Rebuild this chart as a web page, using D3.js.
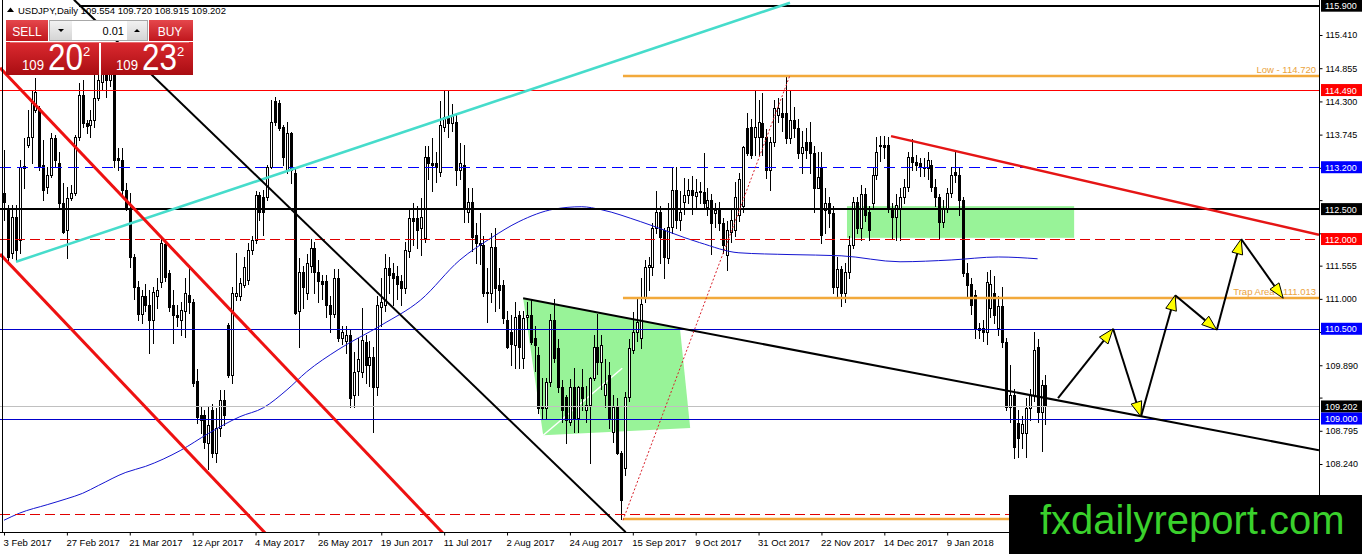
<!DOCTYPE html>
<html>
<head>
<meta charset="utf-8">
<script src="https://cdn.jsdelivr.net/npm/d3@7"></script>
<style>
  html, body { margin: 0; padding: 0; background: #fff; }
  svg { display: block; font-family: "Liberation Sans", Arial, sans-serif; }
</style>
</head>
<body>
<svg id="chart" width="1362" height="554"></svg>
<script>
// --- data ---

const symbolName = "USDJPY,Daily";

// daily candles [open, high, low, close], first bar = 3 Feb 2017
const candles = [
  [112.77,113.49,112.32,112.62],[112.49,112.57,111.62,111.70],[111.77,112.57,111.68,112.37],[112.37,112.57,111.65,111.82],
  [111.98,113.32,111.77,113.20],[113.22,113.69,112.85,113.19],[113.57,114.16,113.54,113.71],[113.71,114.49,113.27,114.27],
  [114.16,114.69,114.12,114.46],[114.19,114.22,113.15,113.20],[113.24,113.66,112.65,112.82],[112.87,113.20,112.77,113.07],
  [113.07,113.78,113.04,113.69],[113.69,113.74,113.20,113.32],[113.27,113.45,112.54,112.60],[112.60,112.94,112.10,112.12],
  [112.15,112.87,111.68,112.69],[112.69,112.91,112.65,112.77],[112.77,113.74,112.74,113.71],[113.71,114.61,113.66,114.41],
  [114.41,114.66,113.87,113.94],[113.94,113.99,113.78,113.89],[113.91,114.16,113.71,113.99],[113.99,114.74,113.87,114.36],
  [114.36,114.91,114.32,114.66],[114.63,115.16,114.49,114.96],[114.96,115.08,114.38,114.66],[114.66,115.25,114.55,115.05],
  [114.96,115.08,113.20,113.32],[113.35,113.52,113.15,113.32],[113.32,113.52,112.74,112.82],[112.82,112.94,112.49,112.52],
  [112.52,112.77,111.54,111.70],[111.70,111.75,111.00,111.20],[111.20,111.30,110.65,110.75],[110.75,111.15,110.60,111.05],
  [111.05,111.25,110.80,110.90],[110.90,111.15,110.10,110.65],[110.65,111.19,110.27,111.12],[111.04,111.35,110.85,111.15],
  [111.29,112.00,111.20,111.94],[111.91,111.99,111.30,111.37],[111.43,111.48,110.80,110.87],[110.90,111.15,110.27,110.73],
  [110.73,110.90,110.55,110.70],[110.65,110.95,110.40,110.81],[110.79,111.35,110.37,111.10],[111.07,111.57,110.77,110.94],
  [110.94,111.00,109.55,109.60],[109.62,109.82,108.93,109.02],[109.06,109.20,108.76,108.98],[109.06,109.15,108.51,108.61],
  [108.59,109.20,108.15,108.90],[109.15,109.25,108.35,108.43],[108.43,109.18,108.27,108.85],[108.85,109.48,108.70,109.31],
  [109.31,109.48,108.90,109.06],[110.56,110.60,109.70,109.73],[109.73,111.20,109.60,111.09],[111.04,111.77,110.98,111.10],
  [111.04,111.35,110.98,111.27],[111.23,111.70,111.20,111.53],[111.32,111.94,111.25,111.82],[111.82,112.05,111.75,111.98],
  [111.98,112.80,111.94,112.74],[112.74,112.79,112.32,112.46],[112.71,112.82,112.07,112.46],[112.71,113.24,112.66,113.20],
  [113.20,114.33,113.19,113.96],[114.30,114.37,113.91,113.96],[114.27,114.33,113.83,113.86],[113.87,113.91,113.24,113.37],
  [113.15,113.96,113.11,113.77],[113.77,113.79,112.94,113.15],[113.10,113.18,110.74,110.77],[110.79,111.68,110.20,111.45],
  [111.45,111.55,110.85,111.20],[111.10,111.75,111.00,111.60],[111.55,112.00,111.45,111.85],[111.85,111.95,111.10,111.45],
  [111.45,111.65,110.95,111.30],[111.30,111.40,111.00,111.25],[111.30,111.40,110.70,110.90],[110.90,111.05,110.45,110.75],
  [110.75,111.50,110.70,111.35],[111.35,111.50,110.30,110.35],[110.35,110.55,110.25,110.45],[110.30,110.55,110.10,110.40],
  [110.40,110.50,109.20,109.35],[109.40,110.12,109.20,109.78],[109.80,110.35,109.40,110.00],[109.78,110.85,109.70,110.31],
  [110.28,110.40,109.60,109.90],[109.90,110.30,109.55,110.03],[110.03,110.20,108.77,109.52],[109.52,111.05,109.40,110.90],
  [110.87,111.35,110.55,110.95],[110.90,111.75,110.80,111.52],[111.52,111.70,111.10,111.40],[111.44,111.60,110.90,111.35],
  [111.38,111.55,111.00,111.25],[111.30,111.40,110.90,111.18],[111.18,111.95,111.10,111.82],[111.80,112.50,111.70,112.35],
  [112.35,112.60,111.90,112.30],[112.35,112.55,111.85,112.15],[112.18,112.68,111.73,112.37],[112.02,113.55,111.95,113.37],
  [113.37,113.55,113.00,113.27],[113.27,113.69,112.80,113.24],[113.27,113.45,112.95,113.20],[113.12,114.30,113.05,113.91],
  [113.87,114.49,113.80,114.04],[114.02,114.49,113.70,113.94],[113.94,114.25,113.80,114.05],[113.96,114.10,112.90,113.15],
  [113.15,113.60,113.00,113.27],[113.24,113.57,112.28,112.52],[112.46,112.85,112.28,112.62],[112.62,112.85,111.80,112.04],
  [112.07,112.27,111.60,111.94],[111.94,112.43,111.59,111.90],[111.90,112.05,111.05,111.10],[111.12,111.52,110.61,111.10],
  [111.10,112.10,110.95,111.87],[111.87,112.18,110.80,111.18],[111.23,111.52,110.85,111.15],[111.23,111.32,110.59,110.68],
  [110.65,110.80,110.18,110.20],[110.45,110.73,109.90,110.25],[110.23,110.95,109.85,110.70],[110.73,110.80,109.85,110.20],
  [110.01,110.80,109.85,110.68],[110.70,110.95,110.50,110.73],[110.73,111.00,110.25,110.28],[110.35,110.55,109.80,110.23],
  [110.06,110.20,109.10,109.18],[109.20,109.68,109.01,109.18],[109.18,109.68,109.01,109.61],[109.61,110.75,109.55,110.65],
  [110.65,111.00,109.95,110.01],[110.18,110.33,109.45,109.53],[109.53,109.65,108.95,109.15],[109.36,109.40,108.59,108.98],
  [108.95,109.66,108.90,109.53],[109.53,109.85,108.78,109.01],[109.01,109.55,108.78,109.53],[109.53,109.83,109.15,109.35],
  [109.15,109.55,108.95,109.23],[109.23,109.70,108.26,109.68],[109.68,110.40,109.65,110.20],[110.20,110.75,109.75,109.95],
  [109.95,110.40,109.50,110.23],[109.40,110.00,109.20,109.58],[109.73,109.95,108.85,109.01],[108.78,109.40,108.60,109.20],
  [109.20,109.35,108.40,108.43],[108.43,108.45,107.32,107.64],[108.17,109.45,108.05,109.36],[109.36,110.33,109.30,110.18],
  [110.15,110.78,110.10,110.45],[110.45,111.00,110.30,110.62],[110.35,111.35,110.18,110.92],[111.03,111.65,110.95,111.53],
  [111.53,111.70,111.15,111.57],[111.53,112.27,111.40,112.18],[112.18,112.80,112.10,112.45],[112.45,112.55,111.60,112.03],
  [112.15,112.18,111.35,111.70],[111.68,112.60,111.60,112.20],[112.20,113.20,112.10,112.82],[112.82,113.20,112.18,112.32],
  [112.32,112.80,112.15,112.45],[112.62,113.02,112.42,112.74],[112.74,113.00,112.60,112.82],[112.82,113.05,112.42,112.74],
  [112.72,113.00,112.50,112.79],[112.79,112.95,112.60,112.80],[112.79,113.44,112.52,112.60],[112.54,112.85,112.40,112.65],
  [112.65,112.75,111.75,112.27],[112.44,112.60,112.20,112.49],[112.49,112.62,112.15,112.27],[112.27,112.35,111.77,111.90],
  [111.74,112.30,111.48,112.15],[112.12,112.50,111.95,112.32],[112.15,112.95,112.05,112.70],[112.40,113.10,112.30,113.00],
  [112.55,113.55,112.45,113.53],[113.86,114.10,113.40,113.44],[113.87,114.00,113.35,113.40],[113.71,114.49,113.40,113.87],
  [113.71,114.32,113.40,113.96],[113.94,114.44,113.40,113.71],[113.71,113.84,113.02,113.15],[113.15,113.70,112.82,113.62],
  [113.62,114.32,113.55,114.19],[114.08,114.35,113.95,114.19],[114.10,114.35,113.80,114.04],[114.10,114.73,113.60,113.69],
  [113.69,114.49,113.60,113.99],[113.99,114.20,113.70,113.86],[113.86,114.00,113.35,113.44],[113.44,113.80,113.10,113.54],
  [113.62,113.85,113.35,113.49],[113.62,113.96,113.10,113.44],[113.44,113.55,112.45,112.86],[112.86,113.45,112.85,113.04],
  [113.19,113.45,111.94,112.07],[112.49,112.85,112.10,112.60],[112.60,112.70,112.20,112.44],[112.44,112.55,111.10,111.20],
  [111.20,111.70,111.05,111.50],[111.50,111.55,110.88,111.10],[111.10,111.60,110.95,111.45],[111.45,112.05,111.35,111.90],
  [111.90,112.70,111.85,112.62],[112.62,112.70,112.10,112.18],[112.18,112.90,111.98,112.75],[112.75,112.85,112.30,112.40],
  [112.45,112.55,111.98,112.15],[112.60,113.20,112.50,113.07],[113.07,113.70,113.00,113.45],[113.57,113.72,113.30,113.55],
  [113.57,113.73,113.35,113.54],[113.57,113.70,112.45,112.52],[112.52,112.60,112.02,112.37],[112.37,112.75,111.98,112.57],
  [112.52,112.85,111.98,112.70],[112.70,113.00,112.60,112.87],[112.87,113.45,112.80,113.37],[113.37,113.67,113.15,113.29],
  [113.29,113.40,113.15,113.24],[113.27,113.35,113.05,113.20],[113.20,113.35,113.05,113.19],[113.19,113.45,113.00,113.32],
  [113.24,113.32,112.80,112.87],[112.87,113.00,112.55,112.70],[112.70,112.75,112.02,112.29],[112.29,112.65,112.20,112.52],
  [112.52,112.85,112.45,112.77],[112.77,113.20,112.70,113.07],[113.12,113.49,112.95,113.07],[113.07,113.20,112.40,112.65],
  [112.65,112.70,111.38,111.43],[111.43,111.60,111.05,111.23],[111.25,111.35,110.75,110.90],[111.07,111.15,110.35,110.52],
  [110.52,110.60,110.35,110.48],[110.52,110.65,110.30,110.45],[110.45,111.45,110.25,111.28],[110.85,111.48,110.70,111.25],
  [111.10,111.38,110.60,110.73],[110.52,111.05,110.40,110.88],[110.88,111.20,110.20,110.28],[110.28,110.35,109.15,109.20],
  [109.20,109.90,108.95,109.40],[109.40,109.50,108.34,108.52],[108.93,109.15,108.35,108.68],[108.75,109.05,108.50,108.91],
  [108.76,109.35,108.35,109.18],[109.18,109.50,108.98,109.40],[109.40,110.45,109.30,110.15],[110.20,110.33,108.95,109.11],
  [109.11,109.65,108.45,109.56],[109.554,109.720,108.915,109.202]
];

// moving average, sampled [bar, price]
const maPoints = [
  [0,107.30],[4,107.42],[11,107.56],[16,107.66],[20,107.75],[24,107.88],[31,108.10],[36,108.20],
  [45,108.47],[52,108.75],[60,109.03],[66,109.18],[72,109.48],[77,109.78],[85,110.15],[96,110.56],
  [106,110.98],[116,111.65],[124,112.02],[131,112.29],[140,112.50],[147,112.54],[152,112.49],
  [162,112.29],[177,111.94],[187,111.77],[200,111.74],[213,111.72],[228,111.62],[241,111.65],
  [253,111.70],[263,111.67]
];

// x axis: one label every 16 bars
const dateLabels = ["3 Feb 2017","27 Feb 2017","21 Mar 2017","12 Apr 2017","4 May 2017","26 May 2017",
  "19 Jun 2017","11 Jul 2017","2 Aug 2017","24 Aug 2017","15 Sep 2017","9 Oct 2017","31 Oct 2017",
  "22 Nov 2017","14 Dec 2017","9 Jan 2018"];
const dateStep = 16;

// y axis ticks
const priceTicks = [115.410,114.855,114.300,113.745,113.190,112.650,112.095,111.555,111.000,
  110.445,109.890,109.350,108.795,108.240,107.685];

// horizontal levels (price tags on the axis)
const levelPrices = [115.900, 114.490, 113.200, 112.500, 112.000, 110.500, 109.202, 109.000, 107.400];

// orange levels starting at the September low
const orangePrices = [114.720, 111.013, 107.320];
const orangeNames = ["Low", "Trap Area", ""];
const orangeFrom = 157.5;

// trend lines [[bar, price],[bar, price]]
const trendLines = [
  [[3.05,111.62],[200,115.95]],
  [[17.8,116.00],[158.2,107.10]],
  [[-1.02,114.86],[113.5,106.96]],
  [[-1.02,111.75],[67.7,107.00]],
  [[132.1,111.01],[334.6,108.47]],
  [[225.7,113.72],[334.6,112.07]]
];
const fiboLine = [[157.5,107.30],[200,114.74]];

// green zones
const zoneRect = [[214.5,112.55],[272.3,112.02]];
const flagPolygon = [[132.1,111.01],[172.0,110.51],[174.6,108.84],[137.2,108.72]];
const flagStroke = [[137.2,108.72],[157.3,109.84]];

// projected path with arrows
const arrowPath = [[268.2,109.34],[282.2,110.50],[289.3,109.03],[298.0,111.06],[308.6,110.48],[314.8,112.00],[325.5,111.01]];

// one-click trading panel
const bidPrice = 109.202, askPrice = 109.232, lotSize = "0.01";

// --- drawing ---

const svg = d3.select("#chart");
const plotRight = 1319, plotBottom = 532;
const logoTop = 495;

const x = d3.scaleLinear().domain([0, 265]).range([4, 4 + 3.93 * 265]);
const y = d3.scaleLinear().domain([108.24, 115.41]).range([464, 35]);
const px = d => [x(d[0]), y(d[1])];

const defs = svg.append("defs");
defs.append("clipPath").attr("id", "plotClip")
  .append("rect").attr("x", 0).attr("y", 0).attr("width", plotRight).attr("height", plotBottom);

function grad(id, top, bottom) {
  const g = defs.append("linearGradient").attr("id", id).attr("x1", 0).attr("y1", 0).attr("x2", 0).attr("y2", 1);
  g.append("stop").attr("offset", "0%").attr("stop-color", top);
  g.append("stop").attr("offset", "100%").attr("stop-color", bottom);
}
grad("btnRed", "#e5474c", "#c0171d");
grad("priceRed", "#dc2a30", "#a90d12");
grad("spinGray", "#f2f2f2", "#d4d4d4");

const plot = svg.append("g").attr("clip-path", "url(#plotClip)");

// green zones (background)
plot.append("rect")
  .attr("x", x(zoneRect[0][0])).attr("y", y(zoneRect[0][1]))
  .attr("width", x(zoneRect[1][0]) - x(zoneRect[0][0]))
  .attr("height", y(zoneRect[1][1]) - y(zoneRect[0][1]))
  .attr("fill", "#98f398");
plot.append("polygon")
  .attr("points", flagPolygon.map(d => px(d).join(",")).join(" "))
  .attr("fill", "#98f398");
plot.append("line")
  .attr("x1", x(flagStroke[0][0])).attr("y1", y(flagStroke[0][1]))
  .attr("x2", x(flagStroke[1][0])).attr("y2", y(flagStroke[1][1]))
  .attr("stroke", "#fff").attr("stroke-width", 1.5);

// candles
const cg = plot.append("g").attr("shape-rendering", "crispEdges");
candles.forEach((d, i) => {
  const [o, h, l, c] = d;
  const cx = Math.round(x(i));
  cg.append("line")
    .attr("x1", cx + 0.5).attr("x2", cx + 0.5)
    .attr("y1", Math.round(y(Math.max(h, o, c)))).attr("y2", Math.round(y(Math.min(l, o, c))) + 1)
    .attr("stroke", "#000");
  const top = Math.round(y(Math.max(o, c))), bot = Math.round(y(Math.min(o, c)));
  if (c >= o) {
    cg.append("rect").attr("x", cx - 0.5).attr("y", top + 0.5)
      .attr("width", 2).attr("height", Math.max(bot - top, 1))
      .attr("fill", "#fff").attr("stroke", "#000");
  } else {
    cg.append("rect").attr("x", cx - 1).attr("y", top)
      .attr("width", 3).attr("height", Math.max(bot - top, 1) + 1)
      .attr("fill", "#000");
  }
});

// moving average
plot.append("path")
  .datum(maPoints)
  .attr("d", d3.line().x(d => x(d[0])).y(d => y(d[1])).curve(d3.curveMonotoneX))
  .attr("fill", "none").attr("stroke", "#1414d0").attr("stroke-width", 1);

// horizontal levels
const levelStyle = [
  { c: "#000", w: 2, dash: null, box: "#000", from: 19 },
  { c: "#ff0000", w: 1, dash: null, box: "#ff0000" },
  { c: "#0000ff", w: 1, dash: "11,6", box: "#0000ff" },
  { c: "#000", w: 2, dash: null, box: "#000" },
  { c: "#e00000", w: 1, dash: "10,5", box: "#ff0000" },
  { c: "#0000cc", w: 1, dash: null, box: "#0000ff" },
  { c: "#c0c0c0", w: 1, dash: null, box: "#000" },
  { c: "#0000cc", w: 1, dash: null, box: "#0000ff" },
  { c: "#e00000", w: 1, dash: "10,5", box: null }
];
levelPrices.forEach((p, k) => {
  const s = levelStyle[k];
  const yy = Math.round(y(p)) + (s.w === 1 ? 0.5 : 0);
  plot.append("line")
    .attr("x1", s.from != null ? x(s.from) : 0).attr("x2", plotRight)
    .attr("y1", yy).attr("y2", yy)
    .attr("stroke", s.c).attr("stroke-width", s.w)
    .attr("stroke-dasharray", s.dash)
    .attr("shape-rendering", "crispEdges");
});

// orange levels
orangePrices.forEach((p, k) => {
  const yy = Math.round(y(p));
  plot.append("line")
    .attr("x1", x(orangeFrom)).attr("x2", plotRight)
    .attr("y1", yy).attr("y2", yy)
    .attr("stroke", "#f2a93b").attr("stroke-width", 2.5);
  if (orangeNames[k]) {
    plot.append("text")
      .attr("x", plotRight - 3).attr("y", yy - 3)
      .attr("text-anchor", "end").attr("font-size", 9.5).attr("fill", "#eba33c")
      .text(`${orangeNames[k]} - ${p.toFixed(3)}`);
  }
});

// trend lines
const trendStyle = [
  { c: "#46dccb", w: 2.5 },
  { c: "#000", w: 2 },
  { c: "#ee1111", w: 3 },
  { c: "#ee1111", w: 3 },
  { c: "#000", w: 2 },
  { c: "#e51515", w: 2.5 }
];
trendLines.forEach((seg, k) => {
  plot.append("line")
    .attr("x1", x(seg[0][0])).attr("y1", y(seg[0][1]))
    .attr("x2", x(seg[1][0])).attr("y2", y(seg[1][1]))
    .attr("stroke", trendStyle[k].c).attr("stroke-width", trendStyle[k].w);
});
plot.append("line")
  .attr("x1", x(fiboLine[0][0])).attr("y1", y(fiboLine[0][1]))
  .attr("x2", x(fiboLine[1][0])).attr("y2", y(fiboLine[1][1]))
  .attr("stroke", "#d8202a").attr("stroke-width", 1).attr("stroke-dasharray", "2,2");

// projected path with yellow arrow heads
for (let k = 1; k < arrowPath.length; k++) {
  const [x0, y0] = px(arrowPath[k - 1]);
  const [x1, y1] = px(arrowPath[k]);
  const ang = Math.atan2(y1 - y0, x1 - x0);
  const len = 15, half = 5.5;
  const bx = x1 - len * Math.cos(ang), by = y1 - len * Math.sin(ang);
  plot.append("line")
    .attr("x1", x0).attr("y1", y0).attr("x2", bx).attr("y2", by)
    .attr("stroke", "#000").attr("stroke-width", 2);
  const pts = [
    [x1, y1],
    [bx + half * Math.sin(ang), by - half * Math.cos(ang)],
    [bx - half * Math.sin(ang), by + half * Math.cos(ang)]
  ];
  plot.append("polygon")
    .attr("points", pts.map(p => p.join(",")).join(" "))
    .attr("fill", "#ffff00").attr("stroke", "#000").attr("stroke-width", 1);
}

// frame
svg.append("line").attr("x1", 2.5).attr("x2", 2.5).attr("y1", 0).attr("y2", plotBottom)
  .attr("stroke", "#000");

// right price axis; labels under a level tag or under the watermark are left out
const tagged = levelPrices.filter((p, k) => levelStyle[k].box);
const yAxis = svg.append("g")
  .attr("transform", `translate(${plotRight + 0.5},0)`)
  .call(d3.axisRight(y).tickValues(priceTicks)
    .tickFormat(v => (tagged.some(p => Math.abs(y(p) - y(v)) < 9) || y(v) > logoTop - 6) ? "" : d3.format(".3f")(v))
    .tickSize(3).tickPadding(3))
  .call(g => g.select(".domain").remove());
yAxis.selectAll("text").attr("font-size", 9).attr("font-family", "Liberation Sans, Arial, sans-serif").attr("fill", "#000");
yAxis.selectAll("line").attr("stroke", "#000");
svg.append("line").attr("x1", plotRight + 0.5).attr("x2", plotRight + 0.5).attr("y1", 0).attr("y2", 554)
  .attr("stroke", "#000");

// level tags on the axis
levelPrices.forEach((p, k) => {
  if (!levelStyle[k].box) return;
  const yy = y(p);
  svg.append("rect")
    .attr("x", plotRight + 2).attr("y", yy - 6)
    .attr("width", 1362 - plotRight - 2).attr("height", 12)
    .attr("fill", levelStyle[k].box);
  svg.append("text")
    .attr("x", plotRight + 6).attr("y", yy + 3.5)
    .attr("font-size", 9).attr("fill", "#fff")
    .text(p.toFixed(3));
});

// bottom time axis
const xAxis = svg.append("g")
  .attr("transform", `translate(0,${plotBottom + 0.5})`)
  .call(d3.axisBottom(x)
    .tickValues(dateLabels.map((d, k) => k * dateStep))
    .tickFormat((d, k) => dateLabels[k])
    .tickSize(3).tickPadding(4))
  .call(g => g.select(".domain").remove());
xAxis.selectAll("text")
  .attr("text-anchor", "start").attr("dx", -1)
  .attr("font-size", 9.5).attr("font-family", "Liberation Sans, Arial, sans-serif").attr("fill", "#000");
xAxis.selectAll("line").attr("stroke", "#000");
svg.append("line").attr("x1", 0).attr("x2", plotRight).attr("y1", plotBottom + 0.5).attr("y2", plotBottom + 0.5)
  .attr("stroke", "#000");

// header
const last = candles[candles.length - 1];
svg.append("path").attr("d", "M7,12 L10.5,7.5 L14,12 Z").attr("fill", "#000");
svg.append("text")
  .attr("x", 18).attr("y", 14)
  .attr("font-size", 9.5).attr("fill", "#000")
  .text(`${symbolName} ${last.map(v => v.toFixed(3)).join(" ")}`);

// trading panel
const panel = svg.append("g");
panel.append("rect").attr("x", 6).attr("y", 20).attr("width", 42).attr("height", 21).attr("fill", "url(#btnRed)");
panel.append("rect").attr("x", 149).attr("y", 20).attr("width", 44).attr("height", 21).attr("fill", "url(#btnRed)");
panel.append("rect").attr("x", 49.5).attr("y", 20.5).attr("width", 98).attr("height", 20).attr("fill", "url(#spinGray)").attr("stroke", "#a8a8a8");
panel.append("rect").attr("x", 72).attr("y", 21).attr("width", 55).attr("height", 19).attr("fill", "#fff");
panel.append("path").attr("d", "M58,29 L64,29 L61,32 Z").attr("fill", "#000");
panel.append("path").attr("d", "M134,32 L140,32 L137,29 Z").attr("fill", "#000");
panel.append("text").attr("x", 124).attr("y", 35).attr("text-anchor", "end").attr("font-size", 11).attr("fill", "#000").text(lotSize);
panel.append("text").attr("x", 27).attr("y", 36).attr("text-anchor", "middle").attr("font-size", 12).attr("fill", "#fff").text("SELL");
panel.append("text").attr("x", 170).attr("y", 36).attr("text-anchor", "middle").attr("font-size", 12).attr("fill", "#fff").text("BUY");
panel.append("rect").attr("x", 6).attr("y", 42).attr("width", 93).attr("height", 33).attr("fill", "url(#priceRed)");
panel.append("rect").attr("x", 101).attr("y", 42).attr("width", 92).attr("height", 33).attr("fill", "url(#priceRed)");
panel.append("line").attr("x1", 10).attr("x2", 189).attr("y1", 42.5).attr("y2", 42.5).attr("stroke", "#e86a6e").attr("stroke-width", 1);

function priceParts(p) {
  const s = p.toFixed(3);
  return [s.slice(0, 3), s.slice(4, 6), s.slice(6)];
}
[[bidPrice, 22], [askPrice, 116]].forEach(([p, x0]) => {
  const [big, mid, sup] = priceParts(p);
  panel.append("text").attr("transform", `translate(${x0},70) scale(0.88,1)`)
    .attr("font-size", 15).attr("fill", "#fff").text(big);
  panel.append("text").attr("transform", `translate(${x0 + 26},70) scale(0.85,1)`)
    .attr("font-size", 37).attr("fill", "#fff").text(mid);
  panel.append("text").attr("transform", `translate(${x0 + 61},56)`)
    .attr("font-size", 13).attr("fill", "#fff").text(sup);
});

// watermark
svg.append("rect").attr("x", 1009).attr("y", logoTop).attr("width", 353).attr("height", 554 - logoTop).attr("fill", "#000");
svg.append("text").attr("x", 1040).attr("y", 534)
  .attr("font-size", 40).attr("fill", "#3ad12c").text("fxdailyreport.com");
</script>
</body>
</html>
